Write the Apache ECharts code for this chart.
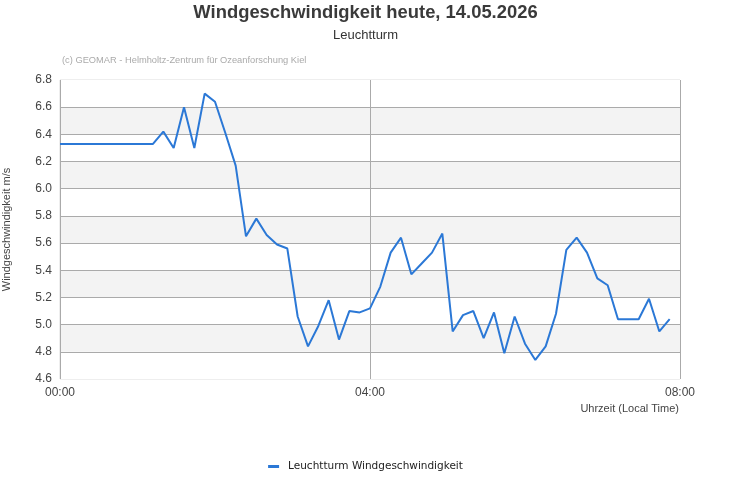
<!DOCTYPE html>
<html>
<head>
<meta charset="utf-8">
<script src="https://cdn.jsdelivr.net/npm/echarts@6/dist/echarts.min.js"></script>
<style>html,body{margin:0;padding:0;background:#fff}#c{width:731px;height:500px}</style>
</head>
<body>
<div id="c"></div>
<script>
// minutes since 00:00 (8-minute steps)
const minutes = [0,8,16,24,32,40,48,56,64,72,80,88,96,104,112,120,128,136,144,152,160,168,176,184,192,200,208,216,224,232,240,248,256,264,272,280,288,296,304,312,320,328,336,344,352,360,368,376,384,392,400,408,416,424,432,440,448,456,464,472];
const windSpeed = [6.33,6.33,6.33,6.33,6.33,6.33,6.33,6.33,6.33,6.33,6.42,6.30,6.60,6.30,6.70,6.64,6.41,6.17,5.65,5.78,5.66,5.59,5.56,5.06,4.84,4.99,5.18,4.89,5.10,5.09,5.12,5.28,5.53,5.64,5.37,5.45,5.53,5.67,4.95,5.07,5.10,4.90,5.09,4.79,5.06,4.86,4.74,4.84,5.08,5.55,5.64,5.53,5.34,5.29,5.04,5.04,5.04,5.19,4.95,5.04];
const xTickLabels = {0:'00:00',240:'04:00',480:'08:00'};
const seriesName = 'Leuchtturm Windgeschwindigkeit';

const data = minutes.map((m,i)=>[m, windSpeed[i]]);
const chart = echarts.init(document.getElementById('c'));
const FF = 'Liberation Sans';
chart.setOption({
  animation:false,
  textStyle:{fontFamily:FF},
  title:{
    text:'Windgeschwindigkeit heute, 14.05.2026',
    subtext:'Leuchtturm',
    left:'center', top:-1,
    textStyle:{fontSize:18.4,fontWeight:'bold',color:'#3a3a3a',fontFamily:FF},
    subtextStyle:{fontSize:13,color:'#333',fontFamily:FF},
    itemGap:7
  },
  grid:{left:60,right:51,top:80,bottom:121,show:true,borderColor:'#ddd',borderWidth:1,backgroundColor:'transparent',outerBoundsMode:'none',containLabel:false},
  legend:{
    bottom:23,left:'center',
    icon:'rect',itemWidth:11,itemHeight:3,
    textStyle:{fontFamily:'DejaVu Sans',fontSize:10.5,color:'#222',padding:[0,0,0,4]},
    data:[seriesName]
  },
  xAxis:{
    type:'value',min:0,max:480,interval:240,
    axisLine:{show:false},axisTick:{show:false},
    axisLabel:{color:'#444',fontSize:12,margin:8,fontFamily:FF,formatter:v=>xTickLabels[v]||''},
    splitLine:{show:true,lineStyle:{color:'#aaa',width:1}}
  },
  yAxis:{
    type:'value',min:4.6,max:6.8,interval:0.2,
    name:'Windgeschwindigkeit m/s',nameLocation:'middle',nameRotate:90,nameGap:48,
    nameTextStyle:{fontSize:11,color:'#444',fontFamily:FF},
    axisLine:{show:false},axisTick:{show:false},
    axisLabel:{color:'#444',fontSize:12,margin:8,fontFamily:FF,formatter:v=>v.toFixed(1)},
    splitLine:{show:true,showMinLine:false,showMaxLine:false,lineStyle:{color:'#aaa',width:1}},
    splitArea:{show:true,areaStyle:{color:['#ffffff','#f3f3f3']}}
  },
  graphic:[
    {type:'text',left:62,top:56,style:{text:'(c) GEOMAR - Helmholtz-Zentrum für Ozeanforschung Kiel',fontSize:9.3,fill:'#aaa',fontFamily:FF}},
    {type:'text',right:52,top:403,style:{text:'Uhrzeit (Local Time)',fontSize:11,fill:'#444',fontFamily:FF}}
  ],
  series:[{
    name:seriesName,type:'line',data:data,
    showSymbol:false,symbol:'none',
    lineStyle:{color:'#2b78d6',width:2},
    itemStyle:{color:'#2b78d6'}
  }]
});
</script>
</body>
</html>
